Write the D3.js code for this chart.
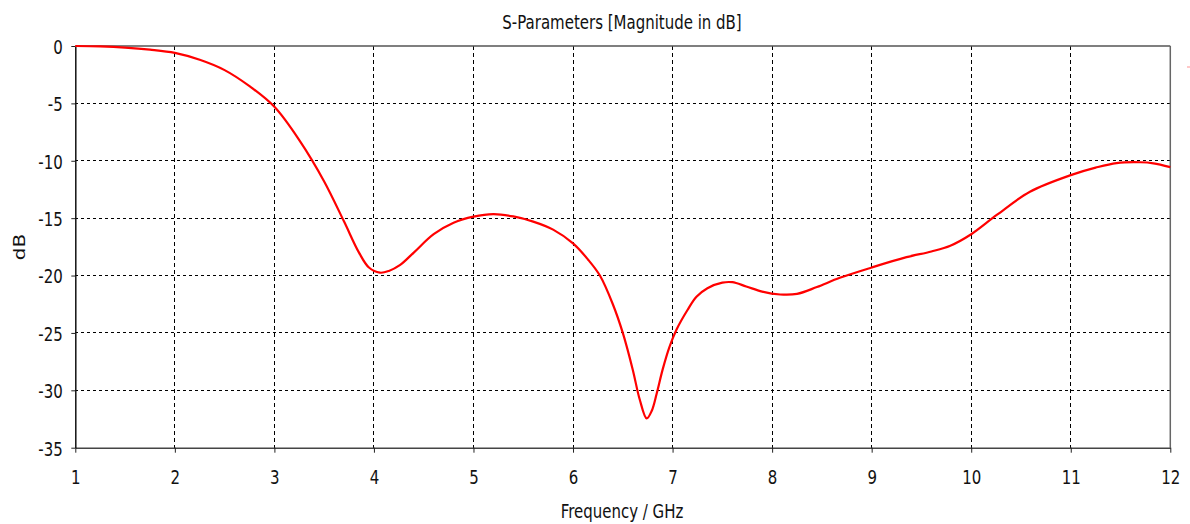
<!DOCTYPE html>
<html>
<head>
<meta charset="utf-8">
<script src="https://cdn.jsdelivr.net/npm/d3@7"></script>
<style>
  html, body { margin: 0; padding: 0; background: #fff; }
  svg { display: block; }
  text { font-family: "DejaVu Sans", Verdana, sans-serif; fill: #111; }
</style>
</head>
<body>
<svg id="chart" width="1190" height="524"></svg>
<script>
// S11 magnitude response, frequency in GHz
const freqGHz = [1.0, 1.25, 1.5, 1.75, 2.0, 2.25, 2.5, 2.75, 3.0, 3.25, 3.5, 3.7, 3.85, 3.95, 4.06, 4.15, 4.26, 4.4, 4.6, 4.8,
  5.0, 5.2, 5.4, 5.6, 5.8, 6.0, 6.15, 6.27, 6.4, 6.5, 6.6, 6.67, 6.74, 6.79, 6.84, 6.9, 6.97, 7.04, 7.15, 7.24,
  7.35, 7.5, 7.6, 7.74, 7.9, 8.08, 8.25, 8.45, 8.68, 9.0, 9.35, 9.6, 9.79, 10.0, 10.26, 10.59, 11.0, 11.25, 11.46, 11.7,
  11.83, 12.0];
const magDB = [0, -0.04, -0.14, -0.32, -0.6, -1.2, -2.1, -3.5, -5.3, -8.2, -11.8, -15.3, -18.0, -19.3, -19.75, -19.6, -19.1, -18.0, -16.4, -15.4,
  -14.87, -14.65, -14.85, -15.3, -16.0, -17.2, -18.6, -20.0, -22.5, -25.0, -28.2, -30.8, -32.45, -31.8, -30.3, -28.2, -26.2, -24.7, -23.0, -21.85,
  -21.1, -20.62, -20.58, -20.95, -21.4, -21.65, -21.6, -21.0, -20.2, -19.3, -18.4, -17.9, -17.4, -16.4, -14.7, -12.7, -11.25, -10.6, -10.2, -10.13,
  -10.22, -10.55];

const xTicks = [1, 2, 3, 4, 5, 6, 7, 8, 9, 10, 11, 12];
const yTicks = [0, -5, -10, -15, -20, -25, -30, -35];

const titleText = "S-Parameters [Magnitude in dB]";
const xLabel = "Frequency / GHz";
const yLabel = "dB";

const svg = d3.select("#chart");
const plotL = 75.3, plotR = 1170.3, plotT = 46, plotB = 447.7;
const stretch = 1.33;   // tall, narrow lettering
const fontSize = 15;

const x = d3.scaleLinear().domain([1, 12]).range([plotL, plotR]);
const y = d3.scaleLinear().domain([-35, 0]).range([plotB, plotT]);

// grid
const grid = svg.append("g");
grid.selectAll("line.v").data(xTicks.slice(1, -1)).join("line")
  .attr("x1", d => x(d)).attr("x2", d => x(d))
  .attr("y1", plotT).attr("y2", plotB)
  .attr("stroke", "#000").attr("stroke-width", 1)
  .attr("stroke-dasharray", "4,3").attr("shape-rendering", "crispEdges");
grid.selectAll("line.h").data(yTicks.slice(1, -1)).join("line")
  .attr("x1", plotL).attr("x2", plotR)
  .attr("y1", d => y(d)).attr("y2", d => y(d))
  .attr("stroke", "#000").attr("stroke-width", 1)
  .attr("stroke-dasharray", "3,3").attr("shape-rendering", "crispEdges");

// frame: top and right borders
svg.append("line").attr("x1", plotL).attr("x2", plotR).attr("y1", plotT).attr("y2", plotT)
  .attr("stroke", "#555").attr("stroke-width", 1.5);
svg.append("line").attr("x1", plotR).attr("x2", plotR).attr("y1", plotT).attr("y2", plotB)
  .attr("stroke", "#666").attr("stroke-width", 1.5);

// axes
const xAxis = d3.axisBottom(x).tickValues(xTicks).tickSizeInner(5).tickSizeOuter(0).tickFormat(d => String(d));
const gx = svg.append("g").attr("transform", `translate(0,${plotB})`).call(xAxis);
gx.select(".domain").attr("stroke", "#444").attr("stroke-width", 1.5);
gx.selectAll(".tick line").attr("stroke", "#222");
gx.selectAll(".tick text")
  .attr("font-size", fontSize).attr("font-family", "DejaVu Sans, sans-serif").attr("fill", "#111")
  .attr("y", 0).attr("dy", 0).attr("text-anchor", "middle")
  .attr("transform", `translate(0,36.5) scale(1,${stretch})`);

const yAxis = d3.axisLeft(y).tickValues(yTicks).tickSizeInner(4).tickSizeOuter(0).tickFormat(d => String(d));
const gy = svg.append("g").attr("transform", `translate(${plotL},0)`).call(yAxis);
gy.select(".domain").attr("stroke", "#111").attr("stroke-width", 1.5);
gy.selectAll(".tick line").attr("stroke", "#222");
gy.selectAll(".tick text")
  .attr("font-size", fontSize).attr("font-family", "DejaVu Sans, sans-serif").attr("fill", "#111")
  .attr("x", 0).attr("dy", 0).attr("text-anchor", "end")
  .attr("transform", `translate(-12.5,7.3) scale(1,${stretch})`);

// curve
const pts = freqGHz.map((f, i) => [f, magDB[i]]);
const line = d3.line().x(d => x(d[0])).y(d => y(d[1])).curve(d3.curveCatmullRom.alpha(0.5));
svg.append("path").datum(pts).attr("d", line)
  .attr("fill", "none").attr("stroke", "#ff0000").attr("stroke-width", 2.2)
  .attr("stroke-linejoin", "round");

// titles
svg.append("text").attr("transform", `translate(622,29) scale(1,${stretch})`)
  .attr("text-anchor", "middle").attr("font-size", fontSize).text(titleText);
svg.append("text").attr("transform", `translate(622,518) scale(1,${stretch})`)
  .attr("text-anchor", "middle").attr("font-size", fontSize).text(xLabel);
svg.append("text").attr("transform", `translate(25,247) rotate(-90) scale(${stretch},1)`)
  .attr("text-anchor", "middle").attr("font-size", fontSize).text(yLabel);

// clipped legend swatch at the right edge
svg.append("line").attr("x1", 1187).attr("x2", 1190).attr("y1", 67).attr("y2", 67)
  .attr("stroke", "#ff9090").attr("stroke-width", 1);
</script>
</body>
</html>
